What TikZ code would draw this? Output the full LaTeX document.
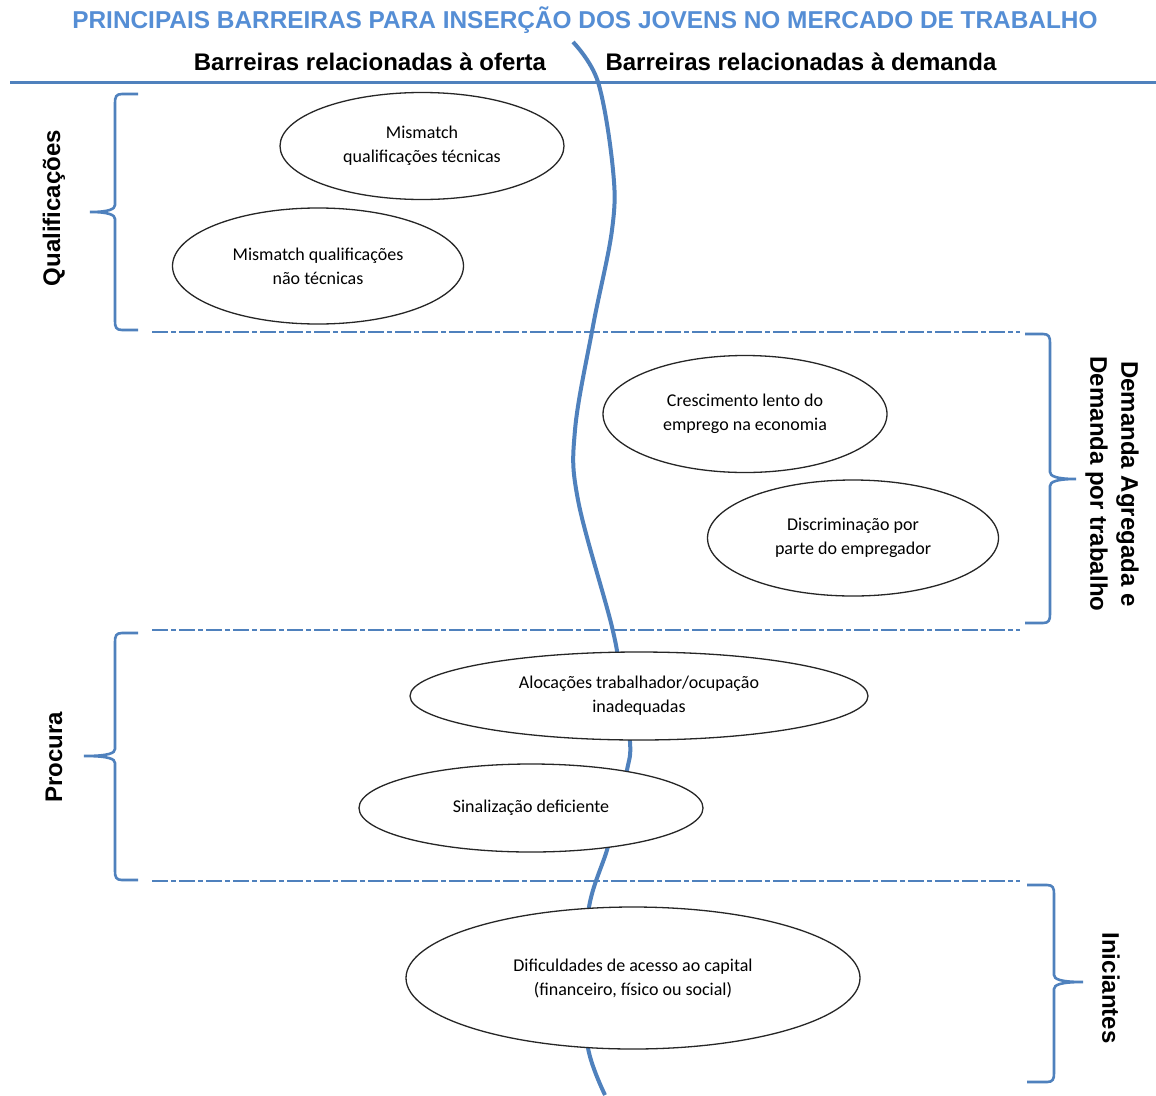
\documentclass[tikz,border=0pt]{standalone}
\usepackage{fontspec}
\setmainfont{Liberation Sans}
\newfontfamily\calib{Carlito}
\usetikzlibrary{shapes.geometric}
\definecolor{ublue}{HTML}{4F81BD}
\definecolor{tblue}{HTML}{558ED5}
\newcommand{\bracketL}[6]{% xv, xtip, xend, ytop, ymid, ybot
  \draw[brc] (#3,#4) -- (#1+7,#4) .. controls (#1+1,#4) and (#1,#4+3) .. (#1,#4+9)
    -- (#1,#5-7) .. controls (#1,#5-3) and (#1-6,#5) .. (#2,#5)
    .. controls (#1-6,#5) and (#1,#5+3) .. (#1,#5+7)
    -- (#1,#6-9) .. controls (#1,#6-3) and (#1+1,#6) .. (#1+7,#6) -- (#3,#6);}
\newcommand{\bracketR}[6]{% xv, xtip, xend, ytop, ymid, ybot
  \draw[brc] (#3,#4) -- (#1-7,#4) .. controls (#1-1,#4) and (#1,#4+3) .. (#1,#4+9)
    -- (#1,#5-7) .. controls (#1,#5-3) and (#1+6,#5) .. (#2,#5)
    .. controls (#1+6,#5) and (#1,#5+3) .. (#1,#5+7)
    -- (#1,#6-9) .. controls (#1,#6-3) and (#1-1,#6) .. (#1-7,#6) -- (#3,#6);}
\begin{document}
\begin{tikzpicture}[x=1pt,y=-1pt,
  oval/.style={ellipse, draw=black!85, line width=1.3pt, fill=white, inner sep=0pt,
    align=center, font=\calib\fontsize{18}{24}\selectfont},
  hdr/.style={font=\bfseries\fontsize{24}{28}\selectfont, inner sep=0pt},
  side/.style={font=\bfseries\fontsize{24}{31}\selectfont, inner sep=0pt, align=center},
  brc/.style={draw=ublue, line width=2.6pt},
  sep/.style={draw=ublue, line width=2.6pt, dash pattern=on 16pt off 3pt on 5pt off 3pt}]
\useasboundingbox (0,0) rectangle (1156,1095);
\fill[white] (0,0) rectangle (1156,1095);

% title and headers
\node[font=\bfseries\fontsize{24.4}{27}\selectfont, text=tblue, inner sep=0pt] (title) at (585,20) {PRINCIPAIS BARREIRAS PARA INSERÇÃO DOS JOVENS NO MERCADO DE TRABALHO};
\node[hdr] (hofe) at (370,62) {Barreiras relacionadas à oferta};
\node[hdr] (hdem) at (801,62) {Barreiras relacionadas à demanda};
\draw[ublue, line width=3pt] (10,82) -- (1156,82);

% dashed separators
\draw[sep] (152,332) -- (1020,332);
\draw[sep] (152,630) -- (1020,630);
\draw[sep] (152,881) -- (1020,881);

% dividing curve
\draw[ublue, line width=4pt] plot[smooth, tension=0.6] coordinates {(573,42) (598,82) (613,170) (612,230) (593,326) (575,430) (578,500) (612,627) (621,680) (630,742) (627,770) (616,815) (607,850) (589,907) (585,980) (588,1048) (605,1095)};

% braces
\bracketL{115}{90}{138}{94}{212}{330}
\bracketL{115}{84}{138}{633}{756}{880}
\bracketR{1050}{1076}{1025}{334}{479}{623}
\bracketR{1054}{1083}{1027}{885}{982}{1082}

% side labels
\node[side, rotate=90] (qual) at (54,208) {Qualificações};
\node[side, rotate=90] (proc) at (54,757) {Procura};
\node[side, rotate=-90] (dem) at (1112,484) {Demanda Agregada e\\Demanda  por trabalho};
\node[side, rotate=-90] (ini) at (1111,988) {Iniciantes};

% ellipses
\node[oval, minimum width=284, minimum height=107] (e1) at (422,146) {Mismatch\\qualificações técnicas};
\node[oval, minimum width=291, minimum height=116] (e2) at (318,266) {Mismatch qualificações\\não técnicas};
\node[oval, minimum width=284, minimum height=117] (e3) at (745,414) {Crescimento lento do\\emprego na economia};
\node[oval, minimum width=291, minimum height=116] (e4) at (853,538) {Discriminação por\\parte do empregador};
\node[oval, minimum width=458, minimum height=88] (e5) at (639,696) {Alocações trabalhador/ocupação\\inadequadas};
\node[oval, minimum width=344, minimum height=88] (e6) at (531,808) {Sinalização deficiente};
\node[oval, minimum width=454, minimum height=142] (e7) at (633,978) {Dificuldades de acesso ao capital\\(financeiro, físico ou social)};
\end{tikzpicture}
\end{document}
